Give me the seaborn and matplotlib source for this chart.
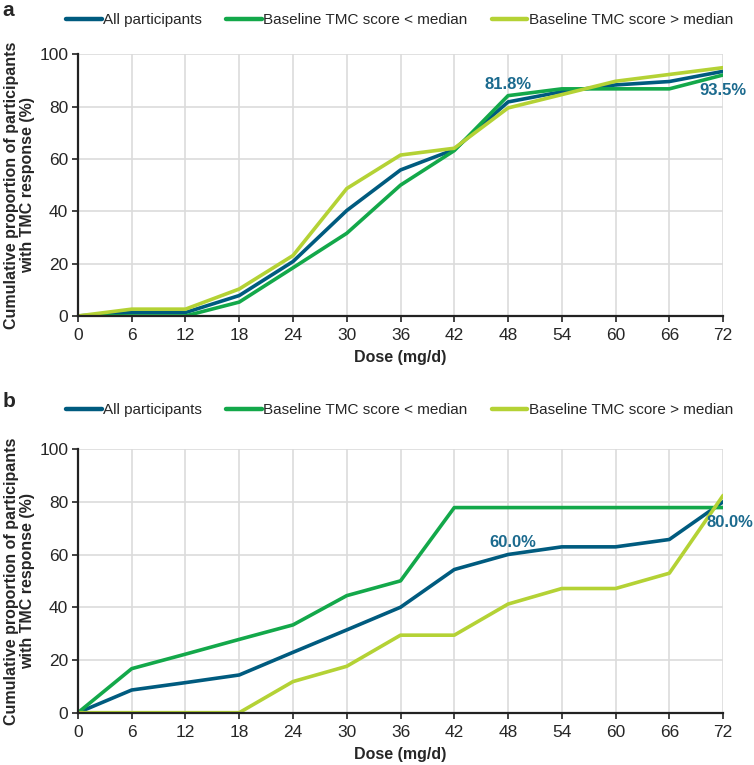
import matplotlib
matplotlib.use("Agg")
import matplotlib.pyplot as plt
import pandas as pd
import seaborn as sns

DOSES = [0, 6, 12, 18, 24, 30, 36, 42, 48, 54, 60, 66, 72]
GROUPS = ["All participants", "Baseline TMC score < median", "Baseline TMC score > median"]

# panel a
A_ALL = [0, 1.3, 1.3, 7.8, 20.8, 40.3, 55.8, 63.6, 81.8, 85.7, 88.3, 89.6, 93.5]
A_LOW = [0, 0, 0, 5.3, 18.4, 31.6, 50.0, 63.2, 84.2, 86.8, 86.8, 86.8, 92.1]
A_HIGH = [0, 2.6, 2.6, 10.3, 23.1, 48.7, 61.5, 64.1, 79.5, 84.6, 89.7, 92.3, 94.9]

# panel b
B_ALL = [0, 8.6, 11.4, 14.3, 22.9, 31.4, 40.0, 54.3, 60.0, 62.9, 62.9, 65.7, 80.0]
B_LOW = [0, 16.7, 22.2, 27.8, 33.3, 44.4, 50.0, 77.8, 77.8, 77.8, 77.8, 77.8, 77.8]
B_HIGH = [0, 0, 0, 0, 11.8, 17.6, 29.4, 29.4, 41.2, 47.1, 47.1, 52.9, 82.4]

A_LABELS = [(48, 88.5, "81.8%"), (72, 86.0, "93.5%")]
B_LABELS = [(48.5, 64.5, "60.0%"), (72.8, 72.0, "80.0%")]

COLORS = ["#005B7F", "#13A84A", "#B4D235"]
ANNOT_COLOR = "#1B6A8E"

sns.set_theme(style="white")
plt.rcParams["font.family"] = ["Liberation Sans", "DejaVu Sans"]


def long_frame(series):
    rows = []
    for group, values in zip(GROUPS, series):
        for dose, val in zip(DOSES, values):
            rows.append({"dose": dose, "pct": val, "group": group})
    return pd.DataFrame(rows)


def draw_panel(fig, rect, series, labels, letter, letter_y, legend_y):
    ax = fig.add_axes(rect)
    df = long_frame(series)
    sns.lineplot(data=df, x="dose", y="pct", hue="group", hue_order=GROUPS,
                 palette=COLORS, linewidth=2.6, ax=ax, legend=False)
    ax.set_xlim(0, 72)
    ax.set_ylim(0, 100)
    ax.set_xticks(DOSES)
    ax.set_yticks([0, 20, 40, 60, 80, 100])
    ax.grid(True, color="#dcdcdc", linewidth=1.2)
    ax.set_axisbelow(True)
    for side in ("top", "right"):
        ax.spines[side].set_visible(False)
    for side in ("left", "bottom"):
        ax.spines[side].set_color("#222222")
        ax.spines[side].set_linewidth(1.6)
    ax.tick_params(axis="both", which="both", direction="out", length=4, width=1.2,
                   color="#222222", labelsize=12.5, left=True, bottom=True)
    ax.tick_params(axis="x", pad=5)
    ax.tick_params(axis="y", pad=3)
    ax.set_xlabel("Dose (mg/d)", fontsize=11.5, fontweight="bold", labelpad=5)
    ax.set_ylabel("Cumulative proportion of participants\nwith TMC response (%)",
                  fontsize=11.5, fontweight="bold", linespacing=1.1)
    ax.yaxis.set_label_coords(-0.066, 0.5)
    for x, y, txt in labels:
        ax.text(x, y, txt, color=ANNOT_COLOR, fontsize=12, fontweight="bold",
                ha="center", va="center", clip_on=False)
    handles = [plt.Line2D([], [], color=c, linewidth=3.2) for c in COLORS]
    fig.legend(handles, GROUPS, loc="center", bbox_to_anchor=(0.53, legend_y),
               ncol=3, frameon=False, handlelength=2.3, handletextpad=0.1,
               columnspacing=1.6, prop={"size": 11})
    fig.text(0.003, letter_y, letter, fontsize=15, fontweight="bold", va="top")
    return ax


fig = plt.figure(figsize=(7.54, 7.65), dpi=100)
draw_panel(fig, [0.1034, 0.587, 0.8556, 0.342], [A_ALL, A_LOW, A_HIGH], A_LABELS,
           "a", 0.999, 0.974)
draw_panel(fig, [0.1034, 0.0684, 0.8556, 0.3446], [B_ALL, B_LOW, B_HIGH], B_LABELS,
           "b", 0.488, 0.464)
fig.savefig("out.png", dpi=100)
